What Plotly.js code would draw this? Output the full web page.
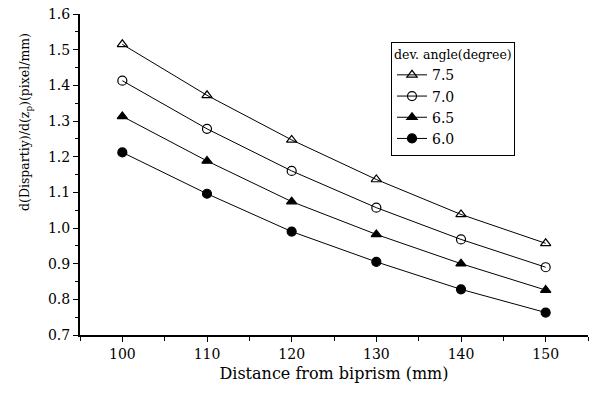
<!DOCTYPE html>
<html>
<head>
<meta charset="utf-8">
<script src="https://cdn.plot.ly/plotly-3.0.1.min.js"></script>
<style>html,body{margin:0;padding:0;background:#fff;}#chart{width:594px;height:394px;}</style>
</head>
<body>
<div id="chart"></div>
<script>
var distance = [100, 110, 120, 130, 140, 150];
var seriesNames = ["7.5", "7.0", "6.5", "6.0"];
var angle75 = [1.515, 1.372, 1.247, 1.136, 1.038, 0.957];
var angle70 = [1.413, 1.278, 1.160, 1.057, 0.968, 0.890];
var angle65 = [1.313, 1.188, 1.074, 0.982, 0.900, 0.826];
var angle60 = [1.212, 1.096, 0.990, 0.905, 0.828, 0.763];
var symbols = ["triangle-up-open", "circle-open", "triangle-up", "circle"];
var values = [angle75, angle70, angle65, angle60];

var font = "DejaVu Serif";
var traces = values.map(function (v, i) {
  return {
    x: distance, y: v, name: seriesNames[i], type: "scatter", mode: "lines+markers",
    line: {color: "#000", width: 1},
    marker: {symbol: symbols[i], size: 9, color: "#000", line: {color: "#000", width: 1.2}}
  };
});

var layout = {
  width: 594, height: 394,
  margin: {l: 80, r: 6, t: 14, b: 59},
  paper_bgcolor: "#fff", plot_bgcolor: "#fff",
  font: {family: font, color: "#000", size: 14},
  showlegend: true,
  legend: {
    x: (391-80)/508, xref: "paper", y: 1 - (42-14)/321, yanchor: "top", xanchor: "left",
    bordercolor: "#000", borderwidth: 1, bgcolor: "#fff",
    title: {text: "dev. angle(degree)", font: {size: 12.5, family: font}},
    font: {size: 14, family: font}, tracegroupgap: 0, itemwidth: 30
  },
  xaxis: {
    range: [95, 155], tickvals: distance, ticktext: distance.map(String),
    ticks: "outside", ticklen: 5, tickwidth: 1, tickcolor: "#000",
    minor: {tickvals: [95, 105, 115, 125, 135, 145, 155], ticks: "outside", ticklen: 4, tickcolor: "#000"},
    showline: true, linecolor: "#000", linewidth: 2, showgrid: false, zeroline: false,
    tickfont: {size: 14, family: font},
    title: {text: "Distance from biprism (mm)", font: {size: 16, family: font}, standoff: 7}
  },
  yaxis: {
    range: [0.7, 1.6], dtick: 0.1, tickformat: ".1f",
    ticks: "outside", ticklen: 5, tickwidth: 1, tickcolor: "#000",
    minor: {dtick: 0.05, ticks: "outside", ticklen: 3, tickcolor: "#000"},
    showline: true, linecolor: "#000", linewidth: 2, showgrid: false, zeroline: false,
    tickfont: {size: 14, family: font}
  },
  annotations: [{
    text: "d(Dispartiy)/d(z<sub>p</sub>)(pixel/mm)", textangle: -90,
    xref: "paper", yref: "paper", x: -(80-25)/508, y: (335-122)/321,
    xanchor: "center", yanchor: "middle", showarrow: false,
    font: {size: 12.5, family: font}
  }]
};

Plotly.newPlot("chart", traces, layout, {displayModeBar: false, staticPlot: true});
</script>
</body>
</html>
